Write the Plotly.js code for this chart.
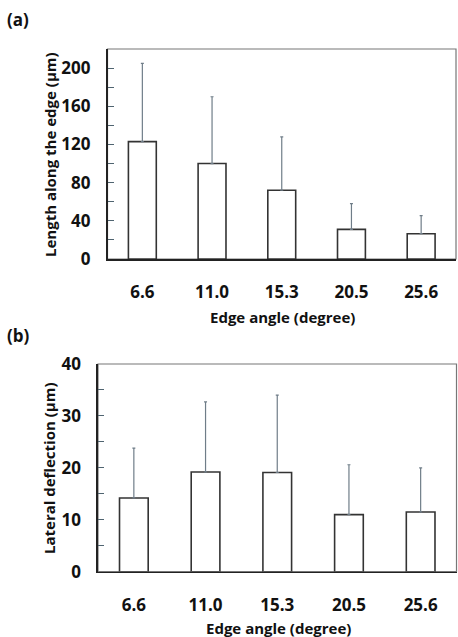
<!DOCTYPE html>
<html>
<head>
<meta charset="utf-8">
<script src="https://cdn.plot.ly/plotly-3.0.1.min.js"></script>
<style>html,body{margin:0;padding:0;background:#fff}#chart{width:458px;height:637px}</style>
</head>
<body>
<div id="chart"></div>
<script>
// Data
const categories = ["6.6", "11.0", "15.3", "20.5", "25.6"];
const lengthMean = [123, 100, 72, 31, 26.5];
const lengthErr = [82, 70, 56, 27, 19];
const deflMean = [14.2, 19.2, 19.1, 11.0, 11.5];
const deflErr = [9.6, 13.5, 14.9, 9.6, 8.5];

const W = 458, H = 637;
const px = v => v / W;
const py = v => 1 - v / H;

const FONT = "Open Sans, Lato, DejaVu Sans, sans-serif";
const tickFont = {family: FONT, size: 17, color: "#111", weight: "bold"};
const titleFont = {family: FONT, size: 15, color: "#111", weight: "bold"};
const panelFont = {family: FONT, size: 17, color: "#111", weight: "bold"};

function barTrace(y, err, xa, ya) {
  return {
    type: "bar", x: categories, y: y, xaxis: xa, yaxis: ya,
    width: 0.4,
    marker: {color: "#ffffff", line: {color: "#333333", width: 1.6}},
    error_y: {type: "data", symmetric: false, array: err, arrayminus: err.map(() => 0),
              color: "#6f7d88", thickness: 1.2, width: 1.5},
    showlegend: false, hoverinfo: "skip"
  };
}

const data = [
  barTrace(lengthMean, lengthErr, "x", "y"),
  barTrace(deflMean, deflErr, "x2", "y2")
];

function xAxis(domain, anchor) {
  return {
    domain: domain, anchor: anchor, type: "category", range: [-0.5, 4.5],
    showline: true, linecolor: "#222", linewidth: 1.6, ticks: "",
    showgrid: false, zeroline: false, tickfont: tickFont, ticklabelstandoff: 17,
    fixedrange: true
  };
}
function yAxis(domain, anchor, range, dtick, minorDtick) {
  return {
    domain: domain, anchor: anchor, range: range, dtick: dtick, tick0: 0,
    showline: true, linecolor: "#222", linewidth: 1.6,
    ticks: "inside", ticklen: 6, tickwidth: 1, tickcolor: "#4f6470",
    minor: {dtick: minorDtick, tick0: 0, ticks: "inside", ticklen: 6, tickwidth: 1, tickcolor: "#4f6470"},
    showgrid: false, zeroline: false, tickfont: tickFont, ticklabelstandoff: 12,
    fixedrange: true
  };
}

const layout = {
  width: W, height: H,
  margin: {l: 0, r: 0, t: 0, b: 0},
  paper_bgcolor: "#fff", plot_bgcolor: "#fff",
  showlegend: false,
  xaxis: xAxis([px(107.5), px(456)], "y"),
  yaxis: yAxis([py(259), py(49)], "x", [0, 220], 40, 20),
  xaxis2: xAxis([px(98), px(456.5)], "y2"),
  yaxis2: yAxis([py(571.7), py(364)], "x2", [0, 40], 10, 5),
  shapes: [
    {type: "rect", xref: "x domain", yref: "y domain", x0: 0, x1: 1, y0: 0, y1: 1,
     line: {color: "#777", width: 1.2}, layer: "below"},
    {type: "rect", xref: "x2 domain", yref: "y2 domain", x0: 0, x1: 1, y0: 0, y1: 1,
     line: {color: "#777", width: 1.2}, layer: "below"}
  ],
  annotations: [
    {text: "(a)", xref: "paper", yref: "paper", x: px(5), y: py(20), xanchor: "left", yanchor: "middle",
     showarrow: false, font: panelFont},
    {text: "(b)", xref: "paper", yref: "paper", x: px(5), y: py(335), xanchor: "left", yanchor: "middle",
     showarrow: false, font: panelFont},
    {text: "Length along the edge (μm)", xref: "paper", yref: "paper", x: px(50), y: py(155),
     xanchor: "center", yanchor: "middle", textangle: -90, showarrow: false, font: titleFont},
    {text: "Edge angle (degree)", xref: "paper", yref: "paper", x: px(282), y: py(317),
     xanchor: "center", yanchor: "middle", showarrow: false, font: titleFont},
    {text: "Lateral deflection (μm)", xref: "paper", yref: "paper", x: px(49), y: py(468),
     xanchor: "center", yanchor: "middle", textangle: -90, showarrow: false, font: titleFont},
    {text: "Edge angle (degree)", xref: "paper", yref: "paper", x: px(278), y: py(628),
     xanchor: "center", yanchor: "middle", showarrow: false, font: titleFont}
  ]
};

Plotly.newPlot("chart", data, layout, {displayModeBar: false, staticPlot: true});
</script>
</body>
</html>
